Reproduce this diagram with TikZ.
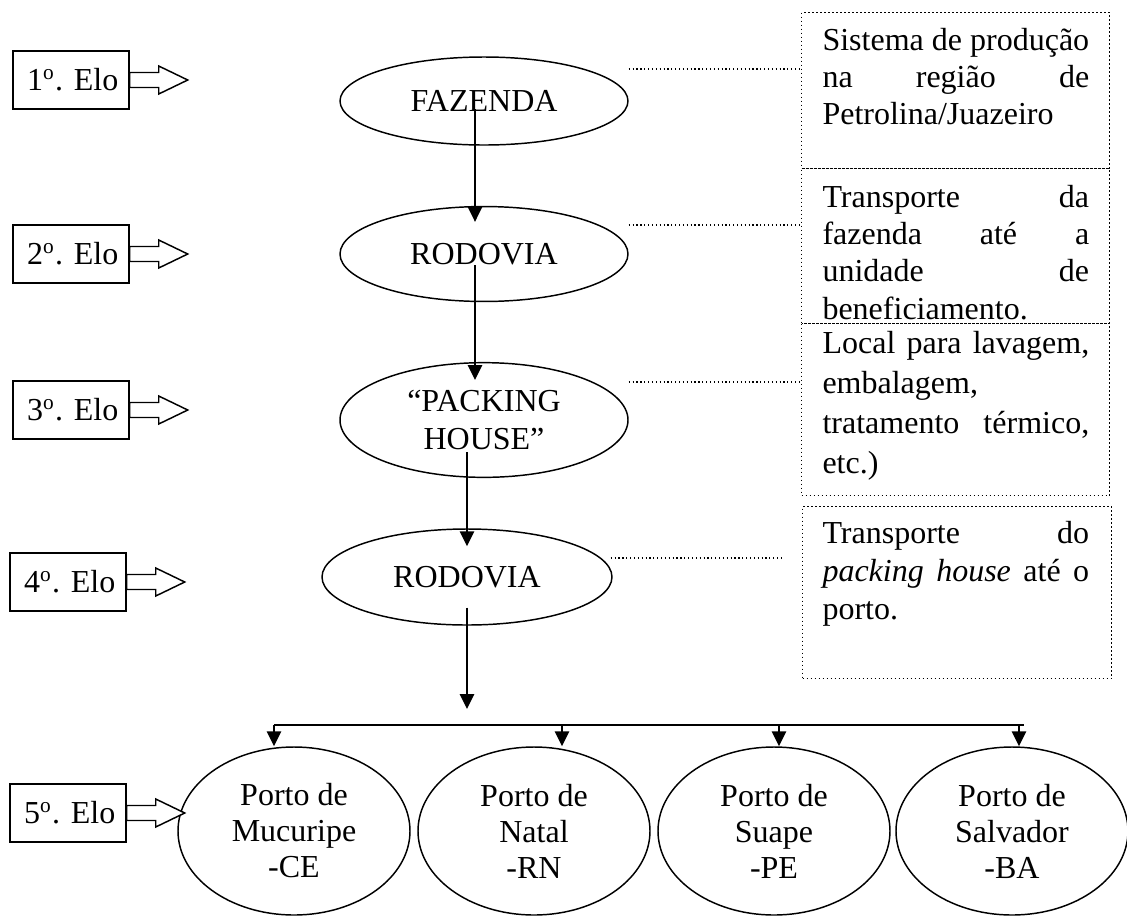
\documentclass[tikz,border=0pt]{standalone}
\usepackage{fontspec}
\setmainfont{Liberation Serif}
\usepackage{tikz}
\usetikzlibrary{calc,positioning,arrows.meta,shapes.geometric}

\newcommand{\linha}[1]{\leavevmode\hbox to 100pt{\spaceskip=3pt plus 1fil minus 1pt\relax #1}}

\tikzset{
  stage/.style={ellipse, draw, line width=0.55pt, inner sep=0pt, align=center,
    font=\fontsize{12}{14}\selectfont},
  port/.style={stage, minimum width=87pt, minimum height=63pt,
    font=\fontsize{12}{13.5}\selectfont},
  elobox/.style={draw, line width=0.55pt, minimum height=21.75pt, minimum width=43.5pt,
    inner xsep=4pt, inner ysep=0pt, font=\fontsize{12}{14}\selectfont},
  eloarrow/.style={draw, fill=white, line width=0.55pt, line join=miter},
  flow/.style={line width=0.6pt, -{Triangle[length=5.6pt,width=5.4pt]}},
  descframe/.style={draw, densely dotted, line width=0.5pt, inner sep=0pt, anchor=north west},
  desctext/.style={anchor=base west, inner sep=0pt, text width=100pt, align=left,
    font=\fontsize{12}{14}\selectfont},
  dotlink/.style={densely dotted, line width=0.45pt},
}

\begin{document}
\begin{tikzpicture}[x=0.375pt, y=-0.375pt]
  \fill[white] (0,0) rectangle (1127,916);
  \useasboundingbox (0,0) rectangle (1127,916);

  % elos da cadeia
  \node[stage, minimum width=108pt, minimum height=33pt] (fazenda) at (484,101) {FAZENDA};
  \node[stage, minimum width=108pt, minimum height=35.6pt] (rodovia1) at (484,254) {RODOVIA};
  \node[stage, minimum width=108pt, minimum height=43pt] (packing) at (484,420) {“PACKING\\HOUSE”};
  \node[stage, minimum width=108.75pt, minimum height=36pt] (rodovia2) at (467,577) {RODOVIA};

  \draw[flow] ($(fazenda.center)+(-9,8)$) -- ($(rodovia1.north)+(-9,16)$);
  \draw[flow] ($(rodovia1.center)+(-9,11)$) -- ($(packing.north)+(-9,18)$);
  \draw[flow] ($(packing.center)+(-17,32)$) -- ($(rodovia2.north)+(0,18)$);

  % portos
  \foreach \n/\x/\cidade/\uf in {1/294/Mucuripe/CE, 2/534/Natal/RN, 3/774/Suape/PE, 4/1012/Salvador/BA} {
    \node[port] (porto\n) at (\x,831) {Porto de\\\cidade\\-\uf};
  }

  \coordinate (split) at (467,709);
  \draw[flow] ($(rodovia2.south)+(0,-18)$) -- (split);
  \foreach \n/\x in {1/274, 2/562, 3/779, 4/1019} {
    \coordinate (bar\n) at (\x,725);
    \draw[flow] (bar\n) -- (bar\n |- porto\n.north);
  }
  \coordinate (barend) at (1024,725);
  \draw[line width=0.8pt] (bar1) -- (barend);

  % rotulos dos elos
  \foreach \n/\x/\y in {1/71/80, 2/71/254, 3/71/410, 4/68/582, 5/68/813} {
    \node[elobox] (elo\n) at (\x,\y) {\makebox[35.5pt][r]{\n\textsuperscript{o}. Elo}};
    \draw[eloarrow] ($(elo\n.east)+(0,-7.5)$) -- ++(29,0) -- ++(0,-6.5) -- ++(29,14)
      -- ++(-29,14) -- ++(0,-6.5) -- ++(-29,0) -- cycle;
  }

  % quadros de descricao
  \node[descframe, minimum width=115.5pt, minimum height=58.5pt] (quadro1) at (801,12) {};
  \node[descframe, minimum width=115.5pt, minimum height=58.1pt] (quadro2) at (801,168) {};
  \node[descframe, minimum width=115.5pt, minimum height=64.5pt] (quadro3) at (801,323) {};
  \node[descframe, minimum width=115.9pt, minimum height=64.5pt] (quadro4) at (802,506) {};

  \node[desctext] (texto1) at ($(quadro1.north west)+(21,38)$)
    {\linha{Sistema de produção}\\ \linha{na região de}\\ Petrolina/Juazeiro};
  \node[desctext] (texto2) at ($(quadro2.north west)+(21,39)$)
    {\linha{Transporte da}\\ \linha{fazenda até a}\\ \linha{unidade de}\\ beneficiamento.};
  \node[desctext, font=\fontsize{12}{15}\selectfont] (texto3) at ($(quadro3.north west)+(21,30)$)
    {\linha{Local para lavagem,}\\ embalagem,\\ \linha{tratamento térmico,}\\ etc.)};
  \node[desctext, font=\fontsize{12}{14.4}\selectfont] (texto4) at ($(quadro4.north west)+(20,37)$)
    {\linha{Transporte do}\\ \linha{\textit{packing house} até o}\\ porto.};

  \foreach \src/\dy/\dst in {fazenda/-32/quadro1, rodovia1/-29/quadro2, packing/-38/quadro3} {
    \coordinate (l-\src) at ($(\src.east)+(0,\dy)$);
    \draw[dotlink] (l-\src) -- (l-\src -| \dst.west);
  }
  \coordinate (l-rodovia2) at ($(rodovia2.east)+(-2,-19)$);
  \coordinate (fim4) at (783,558);
  \draw[dotlink] (l-rodovia2) -- (fim4);
\end{tikzpicture}
\end{document}
